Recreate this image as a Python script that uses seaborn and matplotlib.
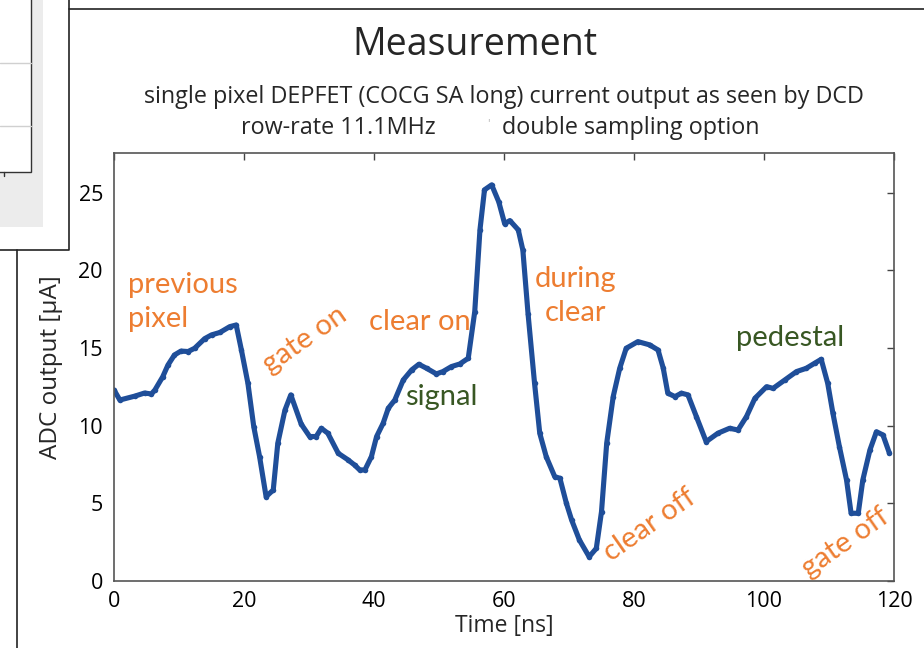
import numpy as np
import pandas as pd
import matplotlib
matplotlib.use("Agg")
import matplotlib.pyplot as plt
from matplotlib.lines import Line2D
from matplotlib.patches import Rectangle
import seaborn as sns

# ---- data ----
time_ns = [0, 0.9, 3.2, 4.7, 5.75, 6.3, 7.5, 8.3, 9.3, 10.3, 11.4, 12.4, 13.95, 15.0, 16.3,
           17.8, 18.8, 19.6, 20.6, 21.5, 22.4, 23.4, 24.5, 25.2, 26.3, 27.2, 28.8, 30.1,
           31.1, 31.9, 32.9, 34.5, 36.0, 37.0, 37.8, 38.6, 39.6, 40.4, 41.4, 42.2, 43.2,
           44.5, 45.8, 46.9, 48.1, 49.6, 50.6, 51.9, 53.2, 54.5, 55.5, 56.3, 57.0, 58.1,
           59.2, 60.1, 60.9, 62.2, 62.9, 63.7, 64.7, 65.5, 66.5, 67.8, 68.6, 69.6, 70.4,
           71.6, 73.1, 74.2, 75.0, 75.8, 76.8, 77.8, 78.8, 80.6, 82.4, 83.7, 84.5, 85.2,
           86.3, 87.3, 88.3, 89.6, 91.1, 92.9, 94.7, 96.0, 97.3, 98.6, 100.4, 101.4, 103.2,
           105.0, 106.5, 107.8, 108.8, 109.8, 110.6, 111.6, 112.7, 113.4, 114.5, 115.2,
           116.3, 117.3, 118.3, 119.3]
adc_uA = [12.3, 11.65, 11.9, 12.1, 12.04, 12.3, 13.15, 13.9, 14.55, 14.8, 14.77, 14.98, 15.6,
          15.84, 16.0, 16.37, 16.48, 14.87, 12.73, 9.94, 8.0, 5.43, 5.86, 8.87, 11.0, 11.98,
          10.1, 9.3, 9.3, 9.83, 9.51, 8.22, 7.8, 7.47, 7.15, 7.15, 8.0, 9.3, 10.15, 11.12,
          11.65, 12.94, 13.59, 13.95, 13.69, 13.33, 13.48, 13.8, 13.97, 14.34, 17.34, 22.6,
          25.18, 25.5, 24.4, 23.0, 23.2, 22.6, 21.3, 17.2, 12.73, 9.51, 8.0, 6.72, 6.61,
          5.0, 3.93, 2.64, 1.56, 2.1, 4.46, 8.87, 11.87, 13.69, 14.98, 15.41, 15.2, 14.87,
          13.7, 12.09, 11.87, 12.09, 11.98, 10.58, 8.97, 9.51, 9.83, 9.72, 10.58, 11.76,
          12.51, 12.4, 12.94, 13.48, 13.69, 14.02, 14.27, 12.73, 10.8, 8.65, 6.5, 4.36,
          4.36, 6.5, 8.44, 9.61, 9.4, 8.22]

x_ticks = [0, 20, 40, 60, 80, 100, 120]
y_ticks = [0, 5, 10, 15, 20, 25]

title = "Measurement"
subtitle1 = "single pixel DEPFET (COCG SA long) current output as seen by DCD"
subtitle2a = "row-rate 11.1MHz"
subtitle2b = "double sampling option"
xlabel = "Time [ns]"
ylabel = "ADC output [µA]"

orange_labels = [("previous\npixel", 2.1, 17.95, 0, "left"),
                 ("gate on", 29.3, 15.5, 35, "center"),
                 ("clear on", 47.0, 16.7, 0, "center"),
                 ("during\nclear", 71.0, 18.35, 0, "center"),
                 ("clear off", 82.4, 3.6, 35, "center"),
                 ("gate off", 112.6, 2.45, 35, "center")]
green_labels = [("signal", 50.4, 11.85), ("pedestal", 104.0, 15.65)]

df = pd.DataFrame({"t": time_ns, "v": adc_uA})

sns.set_style("white")
plt.rcParams["font.family"] = ["Open Sans", "DejaVu Sans"]

W, H = 924, 648
fig = plt.figure(figsize=(W / 100, H / 100), dpi=100)
ax = fig.add_axes([114 / W, 1 - 581 / H, (894 - 114) / W, (581 - 153) / H])

sns.lineplot(data=df, x="t", y="v", ax=ax, color="#1f4e99", linewidth=3.7,
             marker="o", markersize=4, markeredgewidth=0, sort=False)

ax.set_xlim(0, 120)
ax.set_ylim(0, 27.55)
ax.set_xticks(x_ticks)
ax.set_yticks(y_ticks)
ax.tick_params(direction="in", top=True, right=True, length=5, width=1,
               color="#444444", labelsize=15.5, labelcolor="black")
ax.tick_params(axis="x", pad=7)
ax.tick_params(axis="y", pad=8)
for s in ax.spines.values():
    s.set_visible(True)
    s.set_color("#555555")
    s.set_linewidth(1.2)
ax.set_xlabel(xlabel, fontsize=16.5, labelpad=2)
ax.set_ylabel(ylabel, fontsize=17.5, labelpad=11)

lab_font = ["Lato", "DejaVu Sans"]
for txt, x, y, rot, ha in orange_labels:
    ax.text(x, y, txt, color="#ED7D31", fontsize=21, family=lab_font, rotation=rot,
            ha=ha, va="center", linespacing=1.35, rotation_mode="anchor")
for txt, x, y in green_labels:
    ax.text(x, y, txt, color="#385723", fontsize=21, family=lab_font,
            ha="center", va="center")

# titles
fig.text(475 / W, 1 - 45 / H, title, fontsize=27, ha="center", va="center")
fig.text(504 / W, 1 - 97 / H, subtitle1, fontsize=16.8, ha="center", va="center")
fig.text(338 / W, 1 - 128 / H, subtitle2a, fontsize=16.8, ha="center", va="center")
fig.text(631 / W, 1 - 128 / H, subtitle2b, fontsize=16.8, ha="center", va="center")
fig.text(488 / W, 1 - 125 / H, "'", fontsize=9, color="#bbbbbb", ha="center", va="center")

# screenshot frame decorations
def fx(x): return x / W
def fy(y): return 1 - y / H

fig.add_artist(Rectangle((fx(0), fy(227)), fx(43), 227 / H, transform=fig.transFigure,
                         facecolor="#ececec", edgecolor="none"))
fig.add_artist(Rectangle((fx(-2), fy(172)), fx(33), 174 / H, transform=fig.transFigure,
                         facecolor="white", edgecolor="#333333", linewidth=1))
for yy in (63, 126):
    fig.add_artist(Line2D([fx(0), fx(31)], [fy(yy), fy(yy)], transform=fig.transFigure,
                          color="#d0d0d0", linewidth=1))
fig.add_artist(Line2D([fx(4), fx(4)], [fy(172), fy(176)], transform=fig.transFigure,
                      color="#333333", linewidth=1))
fig.add_artist(Line2D([fx(69), fx(69), fx(0)], [fy(0), fy(250), fy(250)],
                      transform=fig.transFigure, color="#222222", linewidth=1.2))
fig.add_artist(Line2D([fx(69), fx(924)], [fy(9), fy(9)], transform=fig.transFigure,
                      color="#222222", linewidth=1.2))
fig.add_artist(Line2D([fx(17), fx(17)], [fy(250), fy(648)], transform=fig.transFigure,
                      color="#222222", linewidth=1.2))

fig.savefig("out.png", dpi=100)
